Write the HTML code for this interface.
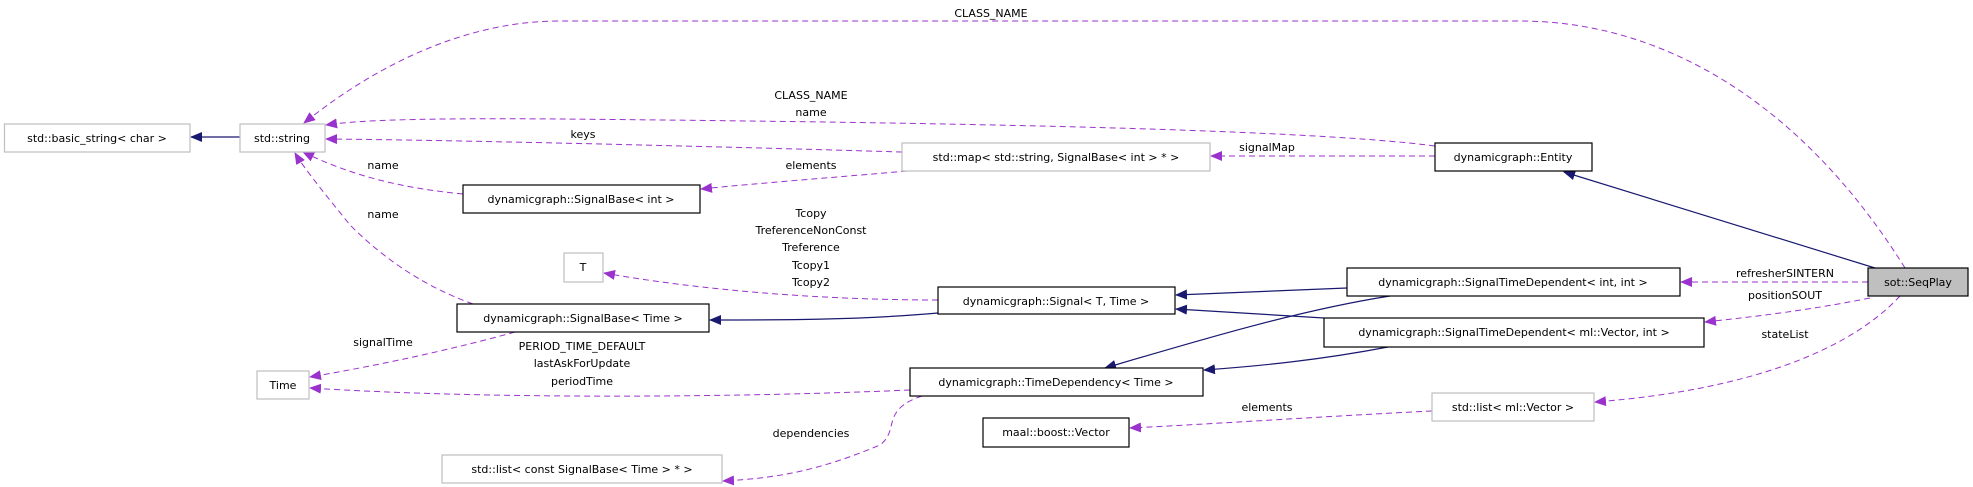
<!DOCTYPE html>
<html><head><meta charset="utf-8"><style>
html,body{margin:0;padding:0;background:#fff}
svg{display:block}
text{font-family:"DejaVu Sans","Liberation Sans",sans-serif;font-size:11px;fill:#000}
.p{fill:none;stroke:#9a32cd;stroke-dasharray:6,4;stroke-width:1}
.n{fill:none;stroke:#191970;stroke-width:1.2}
.bb{fill:#fff;stroke:#000;stroke-width:1.2}
.bg{fill:#fff;stroke:#bfbfbf;stroke-width:1.2}
</style></head><body>
<svg width="1973" height="487" viewBox="0 0 1973 487" xmlns="http://www.w3.org/2000/svg">
<defs>
<marker id="ap" markerWidth="12" markerHeight="10" refX="11" refY="5" orient="auto" markerUnits="userSpaceOnUse"><path d="M0,0 L12,5 L0,10 z" fill="#9a32cd"/></marker>
<marker id="an" markerWidth="12" markerHeight="10" refX="11" refY="5" orient="auto" markerUnits="userSpaceOnUse"><path d="M0,0 L12,5 L0,10 z" fill="#191970"/></marker>
</defs>

<!-- purple dashed edges -->
<path class="p" marker-end="url(#ap)" d="M1905,268 C1800,100 1660,21 1520,21 L560,21 C460,21 370,70 304,123"/>
<path class="p" marker-end="url(#ap)" d="M1435,146 C1300,128 900,122 560,119 C420,118 360,120 326,125"/>
<path class="p" marker-end="url(#ap)" d="M902,152 C700,146 450,140 326,139"/>
<path class="p" marker-end="url(#ap)" d="M1435,156 L1211,156"/>
<path class="p" marker-end="url(#ap)" d="M907,171 C840,177 760,183 701,189"/>
<path class="p" marker-end="url(#ap)" d="M463,194 C400,188 350,175 303,152"/>
<path class="p" marker-end="url(#ap)" d="M473,304 C420,285 380,255 350,225 C330,200 305,170 295,153"/>
<path class="p" marker-end="url(#ap)" d="M938,300 C820,300 700,290 604,273"/>
<path class="p" marker-end="url(#ap)" d="M515,332 C450,350 380,365 310,377"/>
<path class="p" marker-end="url(#ap)" d="M910,390 C750,397 500,400 310,388"/>
<path class="p" marker-end="url(#ap)" d="M922,396 C880,410 900,430 880,445 C820,470 780,478 723,481"/>
<path class="p" marker-end="url(#ap)" d="M1432,411 C1330,416 1230,423 1130,428"/>
<path class="p" marker-end="url(#ap)" d="M1868,282 L1681,282"/>
<path class="p" marker-end="url(#ap)" d="M1870,298 C1810,310 1760,316 1705,322"/>
<path class="p" marker-end="url(#ap)" d="M1900,296 C1850,350 1750,390 1595,402"/>

<!-- navy solid edges -->
<path class="n" marker-end="url(#an)" d="M240,137 L191,137"/>
<path class="n" marker-end="url(#an)" d="M938,313 C860,320 780,320 710,320"/>
<path class="n" marker-end="url(#an)" d="M1347,288 L1176,295"/>
<path class="n" marker-end="url(#an)" d="M1390,296 C1300,310 1200,340 1105,368"/>
<path class="n" marker-end="url(#an)" d="M1324,318 L1176,309"/>
<path class="n" marker-end="url(#an)" d="M1388,347 C1320,360 1260,366 1204,370"/>
<path class="n" marker-end="url(#an)" d="M1875,268 L1564,172"/>

<!-- nodes -->
<rect class="bg" x="4.5" y="124" width="185.5" height="28"/><text x="97" y="142" text-anchor="middle">std::basic_string&lt; char &gt;</text>
<rect class="bg" x="240" y="124" width="85" height="28"/><text x="282" y="142" text-anchor="middle">std::string</text>
<rect class="bb" x="463" y="185" width="237" height="28"/><text x="581" y="203" text-anchor="middle">dynamicgraph::SignalBase&lt; int &gt;</text>
<rect class="bg" x="564" y="253" width="39" height="29"/><text x="583" y="271" text-anchor="middle">T</text>
<rect class="bb" x="457" y="304" width="252" height="28"/><text x="583" y="322" text-anchor="middle">dynamicgraph::SignalBase&lt; Time &gt;</text>
<rect class="bg" x="257" y="371" width="52" height="28"/><text x="283" y="389" text-anchor="middle">Time</text>
<rect class="bg" x="442" y="455" width="280" height="28"/><text x="582" y="473" text-anchor="middle">std::list&lt; const SignalBase&lt; Time &gt; * &gt;</text>
<rect class="bg" x="902" y="143" width="308" height="28"/><text x="1056" y="161" text-anchor="middle">std::map&lt; std::string, SignalBase&lt; int &gt; * &gt;</text>
<rect class="bb" x="938" y="287" width="237" height="27"/><text x="1056" y="305" text-anchor="middle">dynamicgraph::Signal&lt; T, Time &gt;</text>
<rect class="bb" x="910" y="368" width="293" height="28"/><text x="1056" y="386" text-anchor="middle">dynamicgraph::TimeDependency&lt; Time &gt;</text>
<rect class="bb" x="983" y="418" width="146" height="29"/><text x="1056" y="436" text-anchor="middle">maal::boost::Vector</text>
<rect class="bb" x="1347" y="268" width="333" height="28"/><text x="1513" y="286" text-anchor="middle">dynamicgraph::SignalTimeDependent&lt; int, int &gt;</text>
<rect class="bb" x="1324" y="318" width="380" height="29"/><text x="1514" y="336" text-anchor="middle">dynamicgraph::SignalTimeDependent&lt; ml::Vector, int &gt;</text>
<rect class="bb" x="1435" y="143" width="157" height="28"/><text x="1513" y="161" text-anchor="middle">dynamicgraph::Entity</text>
<rect x="1868" y="268" width="100" height="28" fill="#bfbfbf" stroke="#000" stroke-width="1.2"/><text x="1918" y="286" text-anchor="middle">sot::SeqPlay</text>
<rect class="bg" x="1432" y="393" width="162" height="28"/><text x="1513" y="411" text-anchor="middle">std::list&lt; ml::Vector &gt;</text>

<!-- edge labels -->
<g text-anchor="middle">
<text x="991" y="17">CLASS_NAME</text>
<text x="811" y="99">CLASS_NAME</text>
<text x="811" y="116">name</text>
<text x="583" y="138">keys</text>
<text x="1267" y="151">signalMap</text>
<text x="811" y="169">elements</text>
<text x="383" y="169">name</text>
<text x="383" y="218">name</text>
<text x="811" y="217">Tcopy</text>
<text x="811" y="234">TreferenceNonConst</text>
<text x="811" y="251">Treference</text>
<text x="811" y="269">Tcopy1</text>
<text x="811" y="286">Tcopy2</text>
<text x="383" y="346">signalTime</text>
<text x="582" y="350">PERIOD_TIME_DEFAULT</text>
<text x="582" y="367">lastAskForUpdate</text>
<text x="582" y="385">periodTime</text>
<text x="811" y="437">dependencies</text>
<text x="1267" y="411">elements</text>
<text x="1785" y="277">refresherSINTERN</text>
<text x="1785" y="299">positionSOUT</text>
<text x="1785" y="338">stateList</text>
</g>
</svg>
</body></html>
